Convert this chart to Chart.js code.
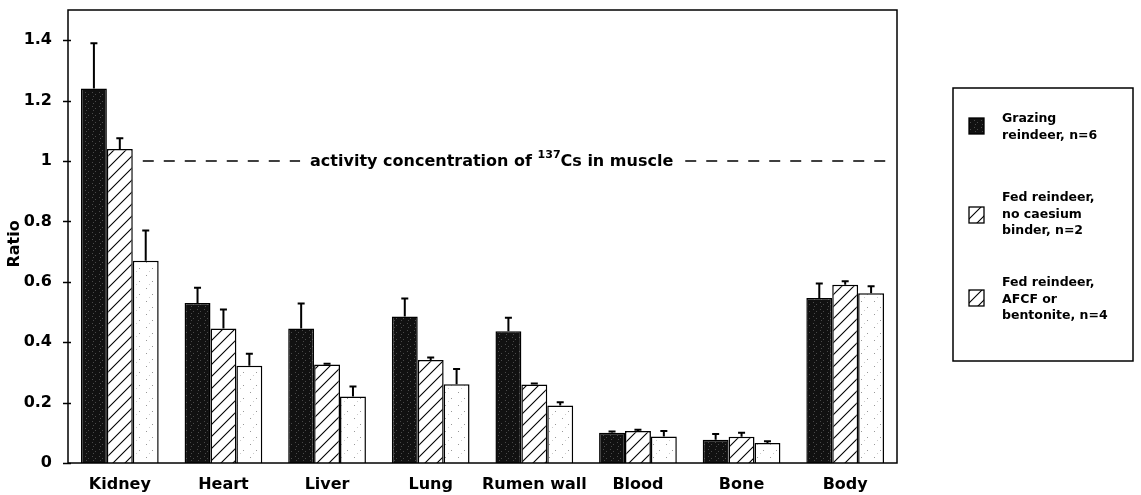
<!DOCTYPE html>
<html>
<head>
<meta charset="utf-8">
<script src="https://cdn.jsdelivr.net/npm/chart.js@4"></script>
<style>
  body { margin: 0; background: #fff; }
</style>
</head>
<body>
<canvas id="ratioChart" width="1141" height="495"></canvas>
<script>
// organ / muscle ratio of 137Cs
const categories = ["Kidney", "Heart", "Liver", "Lung", "Rumen wall", "Blood", "Bone", "Body"];
const grazing = [1.24, 0.53, 0.445, 0.485, 0.436, 0.10, 0.077, 0.546];
const grazingErr = [0.15, 0.05, 0.083, 0.06, 0.045, 0.004, 0.019, 0.048];
const fedNoBinder = [1.04, 0.445, 0.326, 0.341, 0.26, 0.106, 0.087, 0.59];
const fedNoBinderErr = [0.035, 0.063, 0.003, 0.008, 0.003, 0.004, 0.013, 0.012];
const fedBinder = [0.67, 0.322, 0.22, 0.261, 0.19, 0.088, 0.066, 0.562];
const fedBinderErr = [0.10, 0.04, 0.033, 0.05, 0.011, 0.018, 0.006, 0.023];
const yTicks = [0, 0.2, 0.4, 0.6, 0.8, 1, 1.2, 1.4];
const muscleLevel = 1;
const legendLines = [
  ["Grazing", "reindeer, n=6"],
  ["Fed reindeer,", "no caesium", "binder, n=2"],
  ["Fed reindeer,", "AFCF or", "bentonite, n=4"]
];

const FONT = "DejaVu Sans";

// fill patterns
function speckle() {
  const c = document.createElement("canvas");
  c.width = 7; c.height = 7;
  const g = c.getContext("2d");
  g.fillStyle = "#111";
  g.fillRect(0, 0, 7, 7);
  g.fillStyle = "#4a4a4a";
  g.fillRect(1, 1, 1, 1);
  g.fillRect(4, 3, 1, 1);
  g.fillRect(2, 5, 1, 1);
  return g.createPattern(c, "repeat");
}
function hatch() {
  const s = 12;
  const c = document.createElement("canvas");
  c.width = s; c.height = s;
  const g = c.getContext("2d");
  g.fillStyle = "#fff";
  g.fillRect(0, 0, s, s);
  g.strokeStyle = "#000";
  g.lineWidth = 1.1;
  g.beginPath();
  g.moveTo(-1, s + 1); g.lineTo(s + 1, -1);
  g.moveTo(-1, 1); g.lineTo(1, -1);
  g.moveTo(s - 1, s + 1); g.lineTo(s + 1, s - 1);
  g.stroke();
  return g.createPattern(c, "repeat");
}
function dots() {
  const c = document.createElement("canvas");
  c.width = 13; c.height = 13;
  const g = c.getContext("2d");
  g.fillStyle = "#fff";
  g.fillRect(0, 0, 13, 13);
  g.fillStyle = "#999";
  g.fillRect(3, 2, 1, 1);
  g.fillRect(9, 8, 1, 1);
  g.fillStyle = "#ccc";
  g.fillRect(6, 11, 1, 1);
  return g.createPattern(c, "repeat");
}

const fills = [speckle(), hatch(), dots()];
const errors = [grazingErr, fedNoBinderErr, fedBinderErr];

const decorations = {
  id: "decorations",
  afterDatasetsDraw(chart) {
    const ctx = chart.ctx;
    const a = chart.chartArea;
    const y = chart.scales.y;
    ctx.save();
    ctx.strokeStyle = "#000";

    // error bars, upper half only
    ctx.lineWidth = 2;
    chart.data.datasets.forEach((ds, i) => {
      chart.getDatasetMeta(i).data.forEach((bar, j) => {
        const top = y.getPixelForValue(ds.data[j] + errors[i][j]);
        ctx.beginPath();
        ctx.moveTo(bar.x, bar.y);
        ctx.lineTo(bar.x, top);
        ctx.moveTo(bar.x - 3.5, top);
        ctx.lineTo(bar.x + 3.5, top);
        ctx.stroke();
      });
    });

    // frame
    ctx.lineWidth = 1.5;
    ctx.strokeRect(a.left, a.top, a.right - a.left, a.bottom - a.top);

    // y ticks crossing the axis
    y.ticks.forEach(t => {
      const py = Math.round(y.getPixelForValue(t.value)) + 0.5;
      ctx.beginPath();
      ctx.moveTo(a.left - 5, py);
      ctx.lineTo(a.left + 3, py);
      ctx.stroke();
    });

    // muscle reference line with label
    const ly = y.getPixelForValue(muscleLevel);
    const kid = chart.getDatasetMeta(1).data[0];
    const startX = kid.x + kid.width / 2 + 10;
    const big = "bold 16px '" + FONT + "'";
    const small = "bold 11px '" + FONT + "'";
    const part1 = "activity concentration of ";
    const part2 = "Cs in muscle";
    ctx.font = big;
    const w1 = ctx.measureText(part1).width;
    const w3 = ctx.measureText(part2).width;
    ctx.font = small;
    const w2 = ctx.measureText("137").width;
    const total = w1 + w2 + w3;
    const tx = a.left + (a.right - a.left) * 0.292;
    ctx.textBaseline = "middle";
    ctx.fillStyle = "#000";
    ctx.font = big;
    ctx.fillText(part1, tx, ly + 1);
    ctx.font = small;
    ctx.fillText("137", tx + w1, ly - 6);
    ctx.font = big;
    ctx.fillText(part2, tx + w1 + w2, ly + 1);

    ctx.lineWidth = 1.5;
    ctx.setLineDash([11, 10]);
    ctx.beginPath();
    ctx.moveTo(startX, ly);
    ctx.lineTo(tx - 10, ly);
    ctx.moveTo(tx + total + 12, ly);
    ctx.lineTo(a.right - 6, ly);
    ctx.stroke();
    ctx.setLineDash([]);

    // y axis title
    ctx.save();
    ctx.translate(15, 244);
    ctx.rotate(-Math.PI / 2);
    ctx.textAlign = "center";
    ctx.textBaseline = "middle";
    ctx.font = "bold 16px '" + FONT + "'";
    ctx.fillText("Ratio", 0, 0);
    ctx.restore();

    // legend box
    ctx.lineWidth = 1.5;
    ctx.strokeRect(953, 88, 180, 273);
    const groupTops = [122, 201, 286];
    const swatchTops = [118, 207, 290];
    const legendFills = [fills[0], fills[1], fills[1]];
    ctx.textBaseline = "alphabetic";
    ctx.textAlign = "left";
    ctx.font = "bold 12.5px '" + FONT + "'";
    legendLines.forEach((lines, i) => {
      ctx.fillStyle = legendFills[i];
      ctx.fillRect(969, swatchTops[i], 15, 16);
      ctx.lineWidth = 1.3;
      ctx.strokeRect(969, swatchTops[i], 15, 16);
      ctx.fillStyle = "#000";
      lines.forEach((txt, k) => ctx.fillText(txt, 1002, groupTops[i] + k * 16.5));
    });

    ctx.restore();
  }
};

new Chart("ratioChart", {
  type: "bar",
  data: {
    labels: categories,
    datasets: [
      { label: "Grazing reindeer, n=6", data: grazing, backgroundColor: fills[0] },
      { label: "Fed reindeer, no caesium binder, n=2", data: fedNoBinder, backgroundColor: fills[1] },
      { label: "Fed reindeer, AFCF or bentonite, n=4", data: fedBinder, backgroundColor: fills[2] }
    ].map(d => Object.assign(d, {
      borderColor: "#000",
      borderWidth: 1.5,
      borderSkipped: "bottom",
      categoryPercentage: 0.75,
      barPercentage: 1.0
    }))
  },
  options: {
    responsive: false,
    animation: false,
    devicePixelRatio: 1,
    layout: { padding: { left: 0, right: 244, top: 10, bottom: 0 } },
    plugins: {
      legend: { display: false },
      tooltip: { enabled: false }
    },
    scales: {
      x: {
        grid: { display: false },
        border: { display: false },
        ticks: {
          color: "#000",
          padding: 4,
          maxRotation: 0,
          autoSkip: false,
          font: { family: FONT, size: 16, weight: "bold" }
        },
        afterFit(scale) { scale.height = 32; }
      },
      y: {
        min: 0,
        max: 1.5,
        grid: { display: false },
        border: { display: false },
        afterBuildTicks(scale) { scale.ticks = yTicks.map(v => ({ value: v })); },
        ticks: {
          color: "#000",
          padding: 8,
          font: { family: FONT, size: 16, weight: "bold" },
          callback: v => String(v)
        },
        afterFit(scale) {
          scale.width = 68;
          scale.paddingTop = 0;
          scale.paddingBottom = 0;
        }
      }
    }
  },
  plugins: [decorations]
});
</script>
</body>
</html>
